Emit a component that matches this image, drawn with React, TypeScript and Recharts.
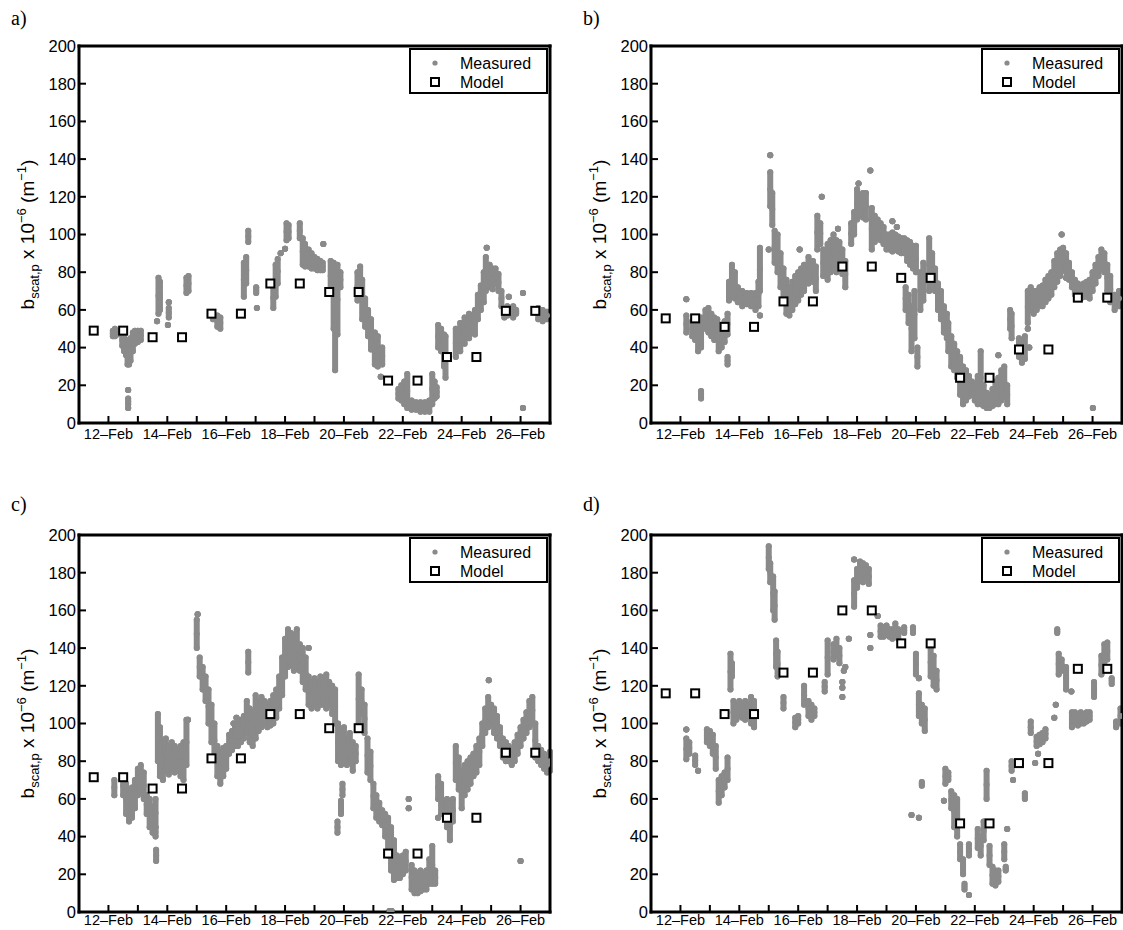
import React from 'react'
import { ScatterChart, Scatter, XAxis, YAxis, ErrorBar } from 'recharts'

// measured columns: [day, low, high]  (high omitted = single point)
type Col = [number, number, number?]

const measuredA: Col[] = [
  [12.15, 46, 49], [12.22, 46, 50], [12.3, 47, 49],
  [12.47, 41, 47], [12.53, 38, 46], [12.6, 36, 44], [12.65, 31, 42], [12.7, 31, 40], [12.75, 33, 45],
  [12.67, 10, 13], [12.67, 17.5], [12.67, 8],
  [12.83, 38, 48], [12.9, 42, 49], [13.0, 43, 49], [13.1, 44, 49],
  [13.65, 54], [13.7, 58, 77], [13.75, 60, 75], [14.05, 56, 61], [14.05, 64], [14.02, 52],
  [14.65, 69, 77], [14.72, 70, 78],
  [15.55, 55, 58], [15.7, 51, 57], [15.8, 50, 56],
  [16.6, 67, 85], [16.68, 74, 88], [16.75, 96, 102],
  [17.02, 69, 72], [17.04, 61],
  [17.6, 61, 72], [17.68, 67, 84], [17.75, 74, 87], [17.85, 90], [18.0, 92.5],
  [18.05, 97, 106], [18.12, 98, 105],
  [18.5, 98, 106], [18.6, 84, 98], [18.68, 83, 95],
  [18.8, 83, 92], [18.9, 82, 90], [19.0, 82, 88], [19.1, 81, 87], [19.2, 81, 86], [19.28, 81, 85], [19.3, 95],
  [19.55, 70, 86], [19.65, 50, 85], [19.7, 28, 82], [19.78, 47, 84], [19.88, 72, 80],
  [20.46, 65, 80], [20.55, 66, 83], [20.62, 55, 76], [20.72, 51, 66], [20.82, 46, 60], [20.92, 39, 55],
  [21.05, 31, 48], [21.15, 30, 46], [21.3, 31, 40], [21.25, 24.5],
  [21.85, 13, 18], [21.95, 12, 20], [22.05, 10, 22], [22.15, 8, 26],
  [22.3, 7, 12], [22.45, 7, 11], [22.6, 6, 11], [22.75, 6, 11], [22.9, 6, 12],
  [23.0, 10, 26], [23.08, 13, 22], [23.15, 14, 19],
  [23.2, 40, 52], [23.3, 38, 50], [23.4, 30, 47], [23.45, 24, 46],
  [23.8, 35, 50], [23.95, 38, 53], [24.1, 42, 56], [24.25, 45, 58],
  [24.45, 47, 60], [24.55, 55, 68], [24.65, 60, 73], [24.75, 64, 80],
  [24.82, 70, 88], [24.85, 93], [24.95, 72, 84], [25.05, 71, 82],
  [25.15, 74, 82], [25.25, 70, 79], [25.35, 62, 70], [25.45, 56, 60],
  [25.55, 57, 62], [25.65, 58, 61], [25.75, 56, 62], [25.85, 58, 60], [25.6, 67],
  [26.08, 69], [26.08, 8],
  [26.6, 55, 61], [26.75, 54, 60], [26.9, 55, 59],
]

const measuredB: Col[] = [
  [12.2, 48, 57], [12.2, 65.6],
  [12.4, 46, 54], [12.5, 44, 55], [12.6, 38, 54], [12.7, 40, 56], [12.7, 13, 17],
  [12.85, 50, 60], [12.95, 48, 61], [13.05, 46, 58], [13.15, 44, 56], [13.25, 45, 55],
  [13.3, 38, 50], [13.4, 40, 52], [13.5, 43, 54], [13.6, 47, 58], [13.6, 31, 35],
  [13.65, 65, 75], [13.75, 68, 84], [13.85, 66, 80], [13.95, 64, 72],
  [14.1, 62, 70], [14.25, 63, 69], [14.4, 62, 69], [14.55, 60, 69], [14.65, 62, 75],
  [14.7, 70, 93], [14.7, 57],
  [15.0, 92], [15.05, 115, 133], [15.05, 142], [15.12, 105, 122],
  [15.2, 85, 102], [15.3, 80, 100], [15.4, 72, 90], [15.5, 66, 82], [15.6, 58, 76], [15.7, 57, 72],
  [15.8, 60, 75], [15.9, 63, 78], [16.0, 65, 80], [16.1, 68, 82], [16.2, 70, 84], [16.05, 92],
  [16.35, 74, 88], [16.5, 75, 86], [16.6, 70, 83],
  [16.65, 92, 110], [16.75, 95, 106], [16.8, 120],
  [16.85, 78, 92], [17.0, 76, 95], [17.1, 80, 97], [17.2, 82, 100], [17.3, 80, 97], [17.4, 82, 96], [17.5, 79, 92], [17.35, 103],
  [17.6, 72, 86],
  [17.8, 95, 106], [17.9, 100, 112],
  [18.0, 108, 124], [18.1, 110, 120], [18.2, 109, 122], [18.3, 108, 122], [18.05, 127], [18.45, 134],
  [18.5, 92, 114], [18.6, 96, 110], [18.7, 98, 108], [18.8, 97, 106], [18.9, 95, 104],
  [19.0, 92, 100], [19.1, 92, 100], [19.2, 91, 101], [19.3, 92, 100], [19.4, 91, 99], [19.5, 90, 98], [19.2, 107], [19.35, 104],
  [19.6, 90, 98], [19.7, 86, 97], [19.8, 84, 96], [19.9, 82, 94], [20.0, 80, 94],
  [19.65, 60, 72], [19.75, 53, 68], [19.85, 38, 62], [19.95, 45, 70], [20.05, 30, 40],
  [20.15, 60, 80], [20.25, 65, 85],
  [20.45, 70, 98], [20.55, 72, 90], [20.65, 70, 82],
  [20.75, 60, 74], [20.85, 55, 70], [20.95, 48, 62], [21.05, 45, 58],
  [21.1, 38, 53], [21.2, 30, 46], [21.3, 28, 42], [21.4, 24, 38],
  [21.5, 15, 35], [21.6, 10, 30], [21.7, 12, 28], [21.8, 14, 25], [21.9, 15, 22], [22.0, 12, 20],
  [22.1, 10, 25], [22.2, 10, 38], [22.3, 9, 20], [22.4, 8, 16], [22.5, 8, 15], [22.6, 9, 18],
  [22.7, 10, 22], [22.8, 10, 24], [22.9, 12, 28], [23.0, 14, 30], [23.1, 10, 20], [22.8, 36],
  [23.2, 50, 60], [23.25, 45, 58],
  [23.5, 35, 45], [23.6, 32, 44], [23.7, 34, 46],
  [23.8, 53, 70], [23.9, 60, 72], [24.0, 58, 70], [24.1, 60, 70], [24.2, 62, 72], [23.8, 50], [23.85, 40],
  [24.3, 62, 73], [24.4, 64, 76], [24.5, 66, 78], [24.6, 68, 80], [24.7, 72, 86], [24.8, 75, 90], [24.9, 78, 92], [24.95, 100],
  [25.0, 82, 93], [25.1, 80, 90], [25.2, 76, 85], [25.3, 72, 80], [25.1, 77],
  [25.4, 68, 76], [25.5, 68, 74], [25.6, 66, 73], [25.7, 67, 74], [25.8, 67, 75], [25.9, 66, 76],
  [26.0, 70, 80], [26.1, 74, 84], [26.2, 78, 88], [26.3, 82, 92], [26.4, 80, 90], [26.5, 70, 84], [26.01, 8],
  [26.6, 64, 78], [26.75, 60, 68], [26.9, 62, 70],
]

const measuredC: Col[] = [
  [12.2, 62, 70],
  [12.5, 62, 72], [12.6, 52, 68], [12.7, 48, 62], [12.8, 50, 66], [12.9, 55, 70],
  [13.0, 62, 76], [13.1, 64, 78], [13.2, 60, 74],
  [13.3, 52, 62], [13.4, 45, 60], [13.5, 42, 56], [13.6, 45, 60], [13.62, 27, 33], [13.6, 40, 45],
  [13.68, 80, 105], [13.75, 72, 98], [13.85, 70, 90],
  [13.95, 75, 92], [14.05, 73, 88], [14.15, 76, 90], [14.25, 74, 88], [14.35, 75, 86], [14.45, 72, 88], [14.55, 70, 90],
  [14.65, 78, 102], [14.7, 102],
  [15.0, 140, 155], [15.03, 158],
  [15.1, 125, 135], [15.2, 118, 130], [15.3, 112, 125], [15.4, 100, 118], [15.5, 90, 110],
  [15.6, 82, 100], [15.7, 72, 88], [15.8, 68, 85], [15.9, 72, 87], [16.0, 76, 88],
  [16.1, 84, 94], [16.2, 86, 96], [16.3, 88, 98], [16.4, 88, 100], [16.5, 90, 102], [16.6, 92, 104], [16.35, 103], [16.25, 100],
  [16.75, 127, 138],
  [16.7, 95, 112], [16.8, 90, 108], [16.9, 88, 106], [17.0, 92, 115], [17.1, 96, 112],
  [17.2, 98, 114], [17.3, 100, 112], [17.4, 98, 110], [17.5, 99, 112], [17.6, 100, 115], [17.7, 103, 118], [17.8, 108, 125],
  [17.9, 115, 135], [18.0, 125, 145], [18.1, 130, 150], [18.2, 132, 148], [18.3, 128, 145],
  [18.4, 130, 150], [18.5, 128, 142], [18.6, 122, 140], [18.7, 118, 135],
  [18.8, 110, 125], [18.9, 108, 122], [19.0, 110, 124], [19.1, 108, 122], [19.2, 110, 125], [18.8, 140],
  [19.3, 110, 124], [19.4, 108, 126], [19.5, 110, 122], [19.6, 105, 120], [19.7, 100, 118],
  [19.8, 80, 100], [19.9, 78, 96], [20.0, 80, 98], [20.1, 78, 92], [20.2, 80, 95], [20.3, 75, 90], [20.4, 80, 88],
  [19.78, 42, 48], [19.9, 52, 59], [19.95, 62, 68],
  [20.5, 100, 126], [20.6, 105, 118], [20.7, 95, 110],
  [20.8, 74, 92], [20.9, 70, 85],
  [21.0, 55, 68], [21.1, 50, 62], [21.2, 48, 58], [21.3, 46, 54], [21.4, 40, 52],
  [21.5, 30, 50], [21.6, 22, 45], [21.7, 17, 38], [21.55, 0.5], [21.62, 0.5],
  [21.8, 18, 30], [21.9, 18, 28], [22.0, 20, 30], [22.1, 22, 32], [22.2, 55], [22.2, 60],
  [22.3, 12, 25], [22.4, 10, 22], [22.5, 10, 20], [22.6, 11, 22], [22.7, 12, 20], [22.8, 12, 22], [22.9, 15, 28], [23.0, 15, 35],
  [23.1, 15, 22],
  [23.2, 60, 72], [23.3, 52, 68], [23.2, 50],
  [23.5, 45, 60], [23.6, 38, 50], [23.7, 48, 60],
  [23.8, 70, 88], [23.9, 65, 82], [24.0, 55, 75],
  [24.1, 62, 78], [24.2, 65, 80], [24.3, 68, 82], [24.4, 72, 84], [24.5, 74, 88], [24.6, 78, 92],
  [24.7, 88, 100], [24.8, 95, 108], [24.9, 98, 114], [25.0, 100, 110], [24.92, 123],
  [25.1, 95, 108], [25.2, 92, 104], [25.3, 88, 98],
  [25.4, 82, 92], [25.5, 80, 90], [25.6, 80, 88], [25.7, 78, 86],
  [25.8, 80, 90], [25.9, 84, 94], [26.0, 88, 98], [26.1, 92, 102], [26.2, 95, 106], [26.3, 98, 112], [26.4, 100, 114], [26.0, 27],
  [26.5, 82, 100], [26.6, 80, 88], [26.7, 78, 86], [26.8, 76, 84], [26.9, 74, 82], [27.0, 75, 85],
]

const measuredD: Col[] = [
  [12.2, 81, 92], [12.2, 96.8], [12.3, 84, 90],
  [12.5, 78, 83], [12.6, 75],
  [12.9, 90, 97], [13.0, 88, 96], [13.1, 84, 94],
  [13.2, 76, 88],
  [13.3, 58, 70], [13.4, 62, 72], [13.5, 66, 74], [13.6, 70, 82],
  [13.7, 118, 137], [13.75, 125, 132],
  [13.8, 100, 112], [13.9, 102, 110], [14.0, 104, 112], [14.1, 103, 110], [14.2, 102, 112], [14.3, 104, 110], [14.4, 100, 114], [14.5, 98, 112],
  [15.0, 182, 194], [15.05, 175, 185],
  [15.15, 160, 178], [15.2, 155, 170],
  [15.25, 130, 144], [15.3, 125, 138],
  [15.5, 108, 114],
  [15.9, 98, 103], [16.0, 100, 104],
  [16.2, 110, 120],
  [16.35, 104, 112], [16.45, 102, 110], [16.55, 104, 108],
  [16.9, 117, 122],
  [17.0, 126, 144],
  [17.2, 134, 142], [17.3, 136, 145], [17.4, 132, 140], [17.5, 114], [17.5, 119], [17.5, 122], [17.55, 128], [17.6, 130],
  [17.72, 145],
  [17.9, 162, 176], [17.9, 187],
  [18.0, 172, 182], [18.1, 176, 186], [18.2, 175, 185], [18.3, 178, 184], [18.4, 174, 182],
  [18.45, 147], [18.45, 140],
  [18.7, 157],
  [18.8, 146, 152], [18.9, 146, 151], [19.0, 147, 152], [19.1, 146, 150], [19.2, 145, 150], [19.3, 146, 153], [19.4, 145, 150],
  [19.6, 148, 151], [19.9, 148, 151],
  [19.85, 51.5], [20.1, 50],
  [20.0, 126, 137], [20.1, 124],
  [20.1, 104, 116], [20.2, 100, 110], [20.3, 96, 108],
  [20.2, 67, 69],
  [20.5, 125, 140], [20.6, 120, 136], [20.7, 118, 128],
  [21.0, 68, 76], [21.1, 70, 74], [20.95, 59],
  [21.2, 55, 64], [21.3, 45, 62], [21.4, 40, 60],
  [21.5, 28, 36], [21.6, 20, 28], [21.65, 12, 15],
  [21.8, 9], [21.8, 30, 36],
  [22.1, 34, 44], [22.2, 30, 40], [22.3, 38, 48], [22.4, 60, 75], [22.5, 25, 35],
  [22.6, 15, 24], [22.7, 14, 22], [22.8, 16, 22],
  [23.0, 28, 36], [23.1, 44], [23.05, 22, 24],
  [23.25, 75, 80], [23.3, 70],
  [23.7, 60, 63],
  [23.9, 95, 101],
  [24.1, 88, 93], [24.2, 89, 94], [24.3, 90, 95], [24.4, 92, 97], [24.05, 79], [24.15, 84],
  [24.7, 103], [24.75, 110],
  [24.85, 126, 137], [24.95, 128, 134],
  [24.8, 148, 150],
  [25.1, 118, 130],
  [25.3, 98, 106], [25.4, 100, 106], [25.5, 99, 105], [25.6, 100, 106], [25.7, 100, 105], [25.8, 101, 106], [25.9, 102, 106],
  [25.28, 117],
  [26.05, 114, 122],
  [26.3, 126, 136], [26.4, 130, 142], [26.5, 134, 143],
  [26.65, 121, 124],
  [26.8, 98, 101],
  [26.95, 100, 108],
]

const modelDays = [11.5, 12.5, 13.5, 14.5, 15.5, 16.5, 17.5, 18.5, 19.5, 20.5, 21.5, 22.5, 23.5, 24.5, 25.5, 26.5]
const modelA = [49, 49, 45.5, 45.5, 58, 58, 74, 74, 69.5, 69.5, 22.5, 22.5, 35, 35, 59.5, 59.5]
const modelB = [55.5, 55.5, 51, 51, 64.5, 64.5, 83, 83, 77, 77, 24, 24, 39, 39, 66.5, 66.5]
const modelC = [71.5, 71.5, 65.5, 65.5, 81.5, 81.5, 105, 105, 97.5, 97.5, 31, 31, 50, 50, 84.5, 84.5]
const modelD = [116, 116, 105, 105, 127, 127, 160, 160, 142.5, 142.5, 47, 47, 79, 79, 129, 129]

const xTicks = [12, 13, 14, 15, 16, 17, 18, 19, 20, 21, 22, 23, 24, 25, 26]
const xTickLabels = ['12–Feb', '', '14–Feb', '', '16–Feb', '', '18–Feb', '', '20–Feb', '', '22–Feb', '', '24–Feb', '', '26–Feb']
const yTicks = [0, 20, 40, 60, 80, 100, 120, 140, 160, 180, 200]

const SANS = '"Liberation Sans", Arial, Helvetica, sans-serif'
const SERIF = '"Liberation Serif", "Times New Roman", serif'
const GRAY = '#8a8a8a'

const axisLine = { stroke: '#000', strokeWidth: 3, strokeLinecap: 'square' as const }
const tickLine = { stroke: '#000', strokeWidth: 2 }

function YLabel(props: any) {
  const vb = props.viewBox || {}
  const cx = vb.x + 34
  const cy = vb.y + vb.height / 2
  return (
    <text x={cx} y={cy} transform={`rotate(-90 ${cx} ${cy})`} textAnchor="middle" fontSize={19} fontFamily={SANS} fill="#000">
      b<tspan fontSize={13} dy={5}>scat,p</tspan>
      <tspan dy={-5}> x 10</tspan>
      <tspan fontSize={13} dy={-8}>−6</tspan>
      <tspan dy={8}> (m</tspan>
      <tspan fontSize={13} dy={-8}>−1</tspan>
      <tspan dy={8}>)</tspan>
    </text>
  )
}

function Dot(props: any) {
  return <circle cx={props.cx} cy={props.cy} r={3} fill={GRAY} />
}

function Square(props: any) {
  return <rect x={props.cx - 4} y={props.cy - 4} width={8} height={8} fill="#fff" stroke="#000" strokeWidth={2} />
}

function Panel({ measured, model, left, top, labelGap }: { measured: Col[]; model: number[]; left: number; top: number; labelGap: number }) {
  const pts = measured.map(([d, lo, hi]) => {
    const h = hi === undefined ? lo : hi
    return { x: d, y: (lo + h) / 2, err: [(h - lo) / 2, (h - lo) / 2] }
  })
  const mdl = model.map((v, i) => ({ x: modelDays[i], y: v }))
  return (
    <div style={{ position: 'absolute', left, top }}>
      <ScatterChart width={560} height={460} margin={{ top: 45, right: 9, bottom: 0, left: 0 }}>
        <XAxis
          xAxisId="b"
          type="number"
          dataKey="x"
          domain={[11, 27]}
          allowDataOverflow
          ticks={xTicks}
          interval={0}
          tickFormatter={(v: number) => xTickLabels[xTicks.indexOf(v)] ?? ''}
          height={37}
          axisLine={axisLine}
          tickLine={tickLine}
          tickSize={-7}
          tickMargin={labelGap}
          tick={{ fill: '#000', fontSize: 14.5, fontFamily: SANS }}
        />
        <XAxis
          xAxisId="t"
          orientation="top"
          type="number"
          dataKey="x"
          domain={[11, 27]}
          allowDataOverflow
          ticks={xTicks}
          interval={0}
          height={1}
          axisLine={axisLine}
          tickLine={tickLine}
          tickSize={-7}
          tick={false}
        />
        <YAxis
          yAxisId="l"
          type="number"
          dataKey="y"
          domain={[0, 200]}
          allowDataOverflow
          ticks={yTicks}
          interval={0}
          width={79}
          axisLine={axisLine}
          tickLine={tickLine}
          tickSize={-7}
          tickMargin={10}
          tick={{ fill: '#000', fontSize: 16.5, fontFamily: SANS }}
          label={{ content: (p: any) => <YLabel {...p} /> }}
        />
        <YAxis
          yAxisId="r"
          orientation="right"
          type="number"
          dataKey="y"
          domain={[0, 200]}
          allowDataOverflow
          ticks={yTicks}
          interval={0}
          width={1}
          axisLine={axisLine}
          tickLine={tickLine}
          tickSize={-7}
          tick={false}
        />
        <Scatter data={pts} xAxisId="b" yAxisId="l" shape={<Dot />} isAnimationActive={false}>
          <ErrorBar
            dataKey="err"
            direction="y"
            width={0}
            stroke={GRAY}
            strokeWidth={6}
            strokeLinecap="round"
            isAnimationActive={false}
          />
        </Scatter>
        <Scatter data={mdl} xAxisId="b" yAxisId="l" shape={<Square />} isAnimationActive={false} />
      </ScatterChart>
    </div>
  )
}

function Legend({ left, top }: { left: number; top: number }) {
  return (
    <g transform={`translate(${left},${top})`}>
      <rect x={0} y={0} width={137} height={44} fill="#fff" stroke="#000" strokeWidth={2} />
      <circle cx={25} cy={14} r={2.6} fill={GRAY} />
      <text x={50} y={20} fontSize={16} fontFamily={SANS}>Measured</text>
      <rect x={21} y={29} width={8} height={8} fill="#fff" stroke="#000" strokeWidth={2} />
      <text x={50} y={39} fontSize={16} fontFamily={SANS}>Model</text>
    </g>
  )
}

export default function App() {
  return (
    <div style={{ position: 'absolute', left: 0, top: 0, width: 1123, height: 930, overflow: 'hidden', background: '#fff' }}>
      <Panel measured={measuredA} model={modelA} left={0} top={0} labelGap={13} />
      <Panel measured={measuredB} model={modelB} left={572} top={0} labelGap={13} />
      <Panel measured={measuredC} model={modelC} left={0} top={489} labelGap={10} />
      <Panel measured={measuredD} model={modelD} left={572} top={489} labelGap={10} />
      <svg width={1123} height={930} style={{ position: 'absolute', left: 0, top: 0, pointerEvents: 'none' }}>
        <text x={11} y={25} fontSize={20} fontFamily={SERIF}>a)</text>
        <text x={583} y={25} fontSize={20} fontFamily={SERIF}>b)</text>
        <text x={11} y={511} fontSize={20} fontFamily={SERIF}>c)</text>
        <text x={583} y={511} fontSize={20} fontFamily={SERIF}>d)</text>
        <Legend left={410} top={49} />
        <Legend left={982} top={49} />
        <Legend left={410} top={538} />
        <Legend left={982} top={538} />
      </svg>
    </div>
  )
}
